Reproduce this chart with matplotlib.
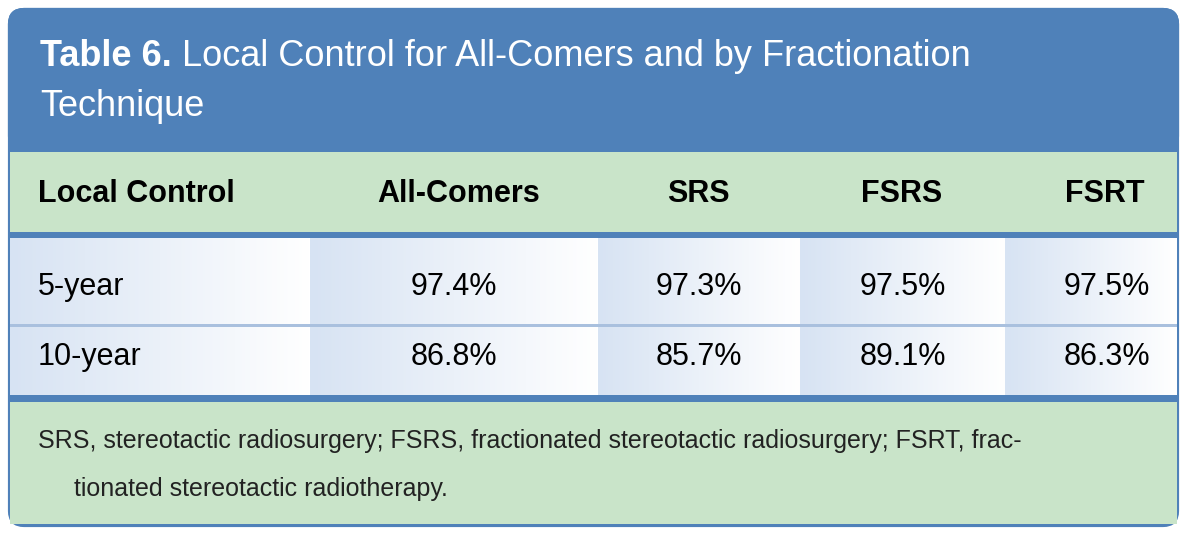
import matplotlib
matplotlib.use("Agg")
import matplotlib.pyplot as plt
import numpy as np
from matplotlib.patches import FancyBboxPatch, Rectangle
from matplotlib.colors import LinearSegmentedColormap

title_bold = "Table 6."
title_rest = " Local Control for All-Comers and by Fractionation"
title_line2 = "Technique"
columns = ["Local Control", "All-Comers", "SRS", "FSRS", "FSRT"]
row_labels = ["5-year", "10-year"]
all_comers = ["97.4%", "86.8%"]
srs = ["97.3%", "85.7%"]
fsrs = ["97.5%", "89.1%"]
fsrt = ["97.5%", "86.3%"]
footnote1 = "SRS, stereotactic radiosurgery; FSRS, fractionated stereotactic radiosurgery; FSRT, frac-"
footnote2 = "tionated stereotactic radiotherapy."

FONT = ["Liberation Sans Narrow", "Liberation Sans", "DejaVu Sans"]
BLUE = "#4f81b9"
GREEN = "#c9e4c9"

fig = plt.figure(figsize=(11.87, 5.35), dpi=100)
ax = fig.add_axes([0, 0, 1, 1])
ax.set_xlim(0, 1187); ax.set_ylim(535, 0); ax.axis("off")

ax.add_patch(FancyBboxPatch((10, 10), 1167, 515, boxstyle="round,pad=0,rounding_size=14",
                            fc="white", ec=BLUE, lw=3))
ax.add_patch(FancyBboxPatch((10, 10), 1167, 140, boxstyle="round,pad=0,rounding_size=14",
                            fc=BLUE, ec=BLUE, lw=3))
ax.add_patch(Rectangle((10, 120), 1167, 32, fc=BLUE, ec="none"))
ax.add_patch(Rectangle((10, 152), 1167, 80, fc=GREEN, ec="none"))
ax.add_patch(Rectangle((10, 232), 1167, 6, fc=BLUE, ec="none"))

col_x = [10, 310, 598, 800, 1005, 1177]
grad = np.linspace(0, 1, 256).reshape(1, -1)
cmap = LinearSegmentedColormap.from_list("g", ["#d7e3f3", "#ffffff"])
for i in range(5):
    ax.imshow(grad, cmap=cmap, extent=(col_x[i], col_x[i + 1], 395, 238), aspect="auto", zorder=1)
ax.add_patch(Rectangle((10, 324), 1167, 3, fc="#a9c0de", ec="none", zorder=2))
ax.add_patch(Rectangle((10, 395), 1167, 7, fc=BLUE, ec="none", zorder=2))
ax.add_patch(Rectangle((10, 402), 1167, 122, fc=GREEN, ec="none", zorder=2))

t = ax.text(40, 57, title_bold, color="white", fontsize=26, fontweight="bold", family=FONT, va="center")
fig.canvas.draw()
bb = t.get_window_extent()
ax.text(bb.x1, 57, title_rest, color="white", fontsize=26, family=FONT, va="center")
ax.text(40, 107, title_line2, color="white", fontsize=26, family=FONT, va="center")

hx = [38, 540, 730, 942, 1145]
ha = ["left", "right", "right", "right", "right"]
for c, x, a in zip(columns, hx, ha):
    ax.text(x, 194, c, fontsize=22, fontweight="bold", family=FONT, ha=a, va="center", zorder=3)

vals = [all_comers, srs, fsrs, fsrt]
vx = [497, 742, 946, 1150]
for r, y in enumerate([287, 357]):
    ax.text(38, y, row_labels[r], fontsize=22, family=FONT, va="center", zorder=3)
    for v, x in zip(vals, vx):
        ax.text(x, y, v[r], fontsize=22, family=FONT, ha="right", va="center", zorder=3)

ax.text(38, 441, footnote1, fontsize=18, family=FONT, va="center", zorder=3, color="#222222")
ax.text(74, 489, footnote2, fontsize=18, family=FONT, va="center", zorder=3, color="#222222")

fig.savefig("out.png", dpi=100)
